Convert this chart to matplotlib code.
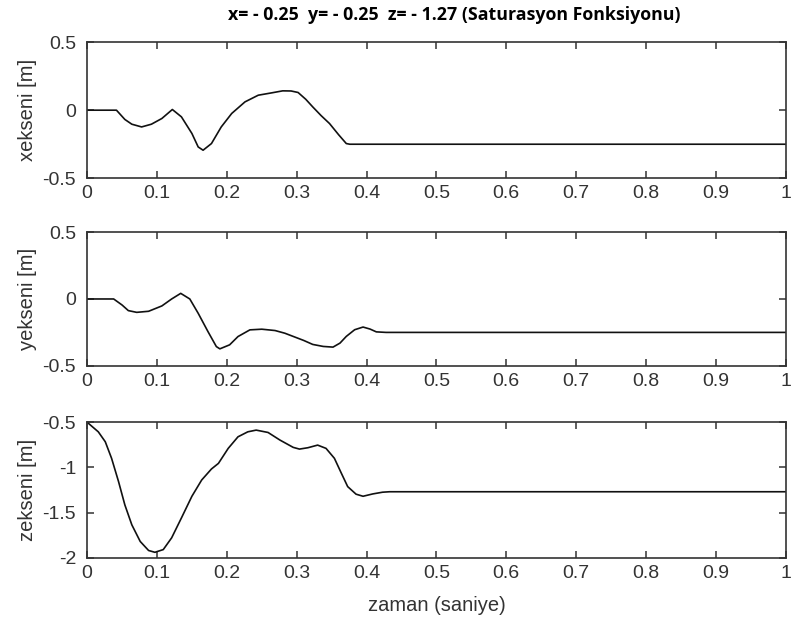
import matplotlib.pyplot as plt

# x ekseni
tx = [0, 0.042, 0.054, 0.064, 0.078, 0.092, 0.107, 0.122, 0.135, 0.15, 0.159, 0.166, 0.178,
      0.192, 0.207, 0.226, 0.245, 0.264, 0.28, 0.292, 0.302, 0.313, 0.323, 0.335, 0.347, 0.36,
      0.371, 0.376, 1.0]
xv = [0, 0, -0.068, -0.103, -0.123, -0.103, -0.061, 0.005, -0.049, -0.171, -0.27, -0.294,
      -0.245, -0.123, -0.024, 0.061, 0.11, 0.127, 0.142, 0.141, 0.13, 0.08, 0.024, -0.04, -0.098,
      -0.18, -0.245, -0.25, -0.25]

# y ekseni
ty = [0, 0.038, 0.05, 0.059, 0.071, 0.088, 0.107, 0.121, 0.134, 0.147, 0.159, 0.173, 0.185,
      0.19, 0.204, 0.216, 0.233, 0.25, 0.269, 0.283, 0.295, 0.31, 0.323, 0.338, 0.352, 0.362,
      0.371, 0.383, 0.395, 0.405, 0.414, 0.428, 1.0]
yv = [0, 0, -0.045, -0.087, -0.1, -0.092, -0.052, 0, 0.042, 0, -0.107, -0.244, -0.356, -0.373,
      -0.343, -0.281, -0.231, -0.226, -0.236, -0.256, -0.28, -0.31, -0.34, -0.355, -0.36, -0.33,
      -0.28, -0.23, -0.21, -0.225, -0.246, -0.25, -0.25]

# z ekseni
tz = [0, 0.002, 0.016, 0.026, 0.035, 0.045, 0.054, 0.064, 0.076, 0.088, 0.097, 0.109, 0.121,
      0.135, 0.15, 0.164, 0.178, 0.188, 0.202, 0.216, 0.23, 0.242, 0.259, 0.276, 0.295, 0.304,
      0.316, 0.33, 0.342, 0.354, 0.364, 0.373, 0.385, 0.395, 0.409, 0.423, 0.433, 1.0]
zv = [-0.5, -0.514, -0.607, -0.717, -0.9, -1.158, -1.415, -1.636, -1.82, -1.92, -1.94, -1.91,
      -1.78, -1.56, -1.32, -1.14, -1.018, -0.956, -0.79, -0.662, -0.607, -0.588, -0.614, -0.698,
      -0.779, -0.798, -0.783, -0.754, -0.79, -0.9, -1.066, -1.213, -1.297, -1.32, -1.294, -1.275,
      -1.27, -1.27]

plt.rcParams['font.family'] = ['Liberation Sans', 'DejaVu Sans']
fig = plt.figure(figsize=(7.92, 6.19), dpi=100)

L, W = 0.110, 0.882
boxes = [(L, 0.712, W, 0.220), (L, 0.409, W, 0.216), (L, 0.099, W, 0.219)]
series = [(tx, xv, 'xekseni [m]', (-0.5, 0.5), [-0.5, 0, 0.5], ['-0.5', '0', '0.5']),
          (ty, yv, 'yekseni [m]', (-0.5, 0.5), [-0.5, 0, 0.5], ['-0.5', '0', '0.5']),
          (tz, zv, 'zekseni [m]', (-2, -0.5), [-2, -1.5, -1, -0.5], ['-2', '-1.5', '-1', '-0.5'])]
xt = [0, 0.1, 0.2, 0.3, 0.4, 0.5, 0.6, 0.7, 0.8, 0.9, 1]
xtl = ['0', '0.1', '0.2', '0.3', '0.4', '0.5', '0.6', '0.7', '0.8', '0.9', '1']

for box, (t, v, lab, lim, yt, ytl) in zip(boxes, series):
    ax = fig.add_axes(box)
    ax.plot(t, v, color='#111111', lw=1.2)
    ax.set_xlim(0, 1)
    ax.set_ylim(*lim)
    ax.set_xticks(xt)
    ax.set_xticklabels(xtl)
    ax.set_yticks(yt)
    ax.set_yticklabels(ytl)
    ax.tick_params(direction='in', top=True, right=True, length=5, width=1.1, labelsize=14,
                   colors='#333333')
    ax.tick_params(axis='x', pad=5)
    ax.tick_params(axis='y', pad=8)
    for s in ax.spines.values():
        s.set_linewidth(1.2)
        s.set_color('#333333')
    ax.set_ylabel(lab, fontsize=14.5, color='#333333')
    ax.yaxis.set_label_coords(-0.072, 0.5)

ax.set_xlabel('zaman (saniye)', fontsize=14.5, color='#333333', va='top')
ax.xaxis.set_label_coords(0.5, -0.279)
fig.text(0.574, 0.975, 'x= - 0.25  y= - 0.25  z= - 1.27 (Saturasyon Fonksiyonu)',
         ha='center', va='center', fontsize=12.8, fontweight='bold', family=['Open Sans', 'DejaVu Sans'])

fig.savefig('out.png', dpi=100)
